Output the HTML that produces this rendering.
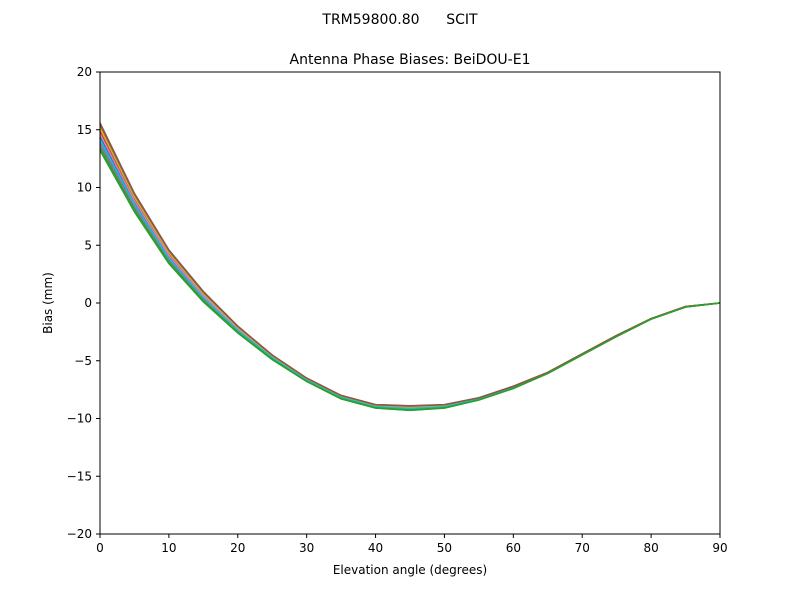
<!DOCTYPE html>
<html><head><meta charset="utf-8"><style>
body{margin:0;background:#fff;font-family:"Liberation Sans","DejaVu Sans",sans-serif}
</style></head><body>
<svg id="s" width="800" height="600" xmlns="http://www.w3.org/2000/svg" font-family="DejaVu Sans, Liberation Sans, sans-serif">
<rect width="800" height="600" fill="#fff"/>
<text x="400" y="24" font-size="14" text-anchor="middle">TRM59800.80&#160;&#160;&#160;&#160;&#160;&#160;SCIT</text>
<text x="410" y="64" font-size="14" text-anchor="middle">Antenna Phase Biases: BeiDOU-E1</text>
<g id="lines" fill="none" stroke-width="1.5"></g>
<rect x="100" y="72" width="620" height="462" fill="none" stroke="#000" stroke-width="1"/>
<g id="ticks" font-size="12" fill="#000"></g>
<text x="410" y="574" font-size="12" text-anchor="middle">Elevation angle (degrees)</text>
<text transform="translate(52,303) rotate(-90)" font-size="12" text-anchor="middle">Bias (mm)</text>
</svg>
<script>
function px(x){return 100+x*620/90}
function py(v){return 303-v*11.55}
var t=document.getElementById("ticks"),h="";
for(var x=0;x<=90;x+=10){var X=px(x);h+='<line x1="'+X+'" y1="534" x2="'+X+'" y2="538" stroke="#000"/><text x="'+X+'" y="552" text-anchor="middle">'+x+'</text>';}
for(var v=-20;v<=20;v+=5){var Y=py(v);h+='<line x1="96" y1="'+Y+'" x2="100" y2="'+Y+'" stroke="#000"/><text x="92" y="'+(Y+4)+'" text-anchor="end">'+(v<0?'\u2212'+(-v):v)+'</text>';}
t.innerHTML=h;
var lo=[13.2,7.9,3.4,0.1,-2.6,-4.9,-6.8,-8.3,-9.1,-9.3,-9.1,-8.4,-7.4,-6.1,-4.5,-2.9,-1.4,-0.35,0];
var hi=[15.6,9.5,4.6,1.0,-2.0,-4.5,-6.5,-8.0,-8.8,-8.9,-8.8,-8.2,-7.2,-6.0,-4.4,-2.8,-1.35,-0.3,0];
var cols=["#1f77b4","#ff7f0e","#2ca02c","#d62728","#9467bd","#8c564b","#e377c2","#7f7f7f","#bcbd22","#17becf","#2ca02c","#8c564b","#2ca02c"];
var g=document.getElementById("lines"),s="";
for(var k=0;k<cols.length;k++){var f=[0.5,0.9,0.05,0.7,0.3,1.0,0.6,0.2,0.8,0.4,0.0,0.95,0.1][k];var p=[];
for(var i=0;i<19;i++){p.push(px(i*5).toFixed(1)+","+py(lo[i]+f*(hi[i]-lo[i])).toFixed(1));}
s+='<polyline stroke="'+cols[k]+'" points="'+p.join(" ")+'"/>';}
g.innerHTML=s;
</script>
</body></html>
